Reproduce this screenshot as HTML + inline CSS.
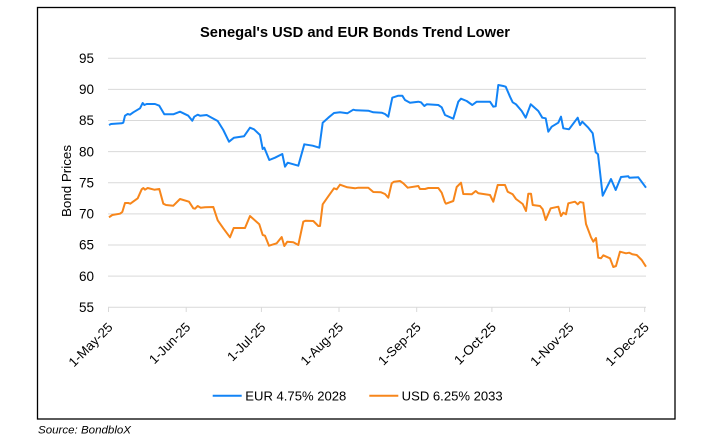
<!DOCTYPE html>
<html>
<head>
<meta charset="utf-8">
<style>
html,body{margin:0;padding:0;background:#fff;}
svg{display:block;}
text{font-family:"Liberation Sans",Arial,sans-serif;fill:#000;}
</style>
</head>
<body>
<svg width="714" height="442" viewBox="0 0 714 442" xmlns="http://www.w3.org/2000/svg">
<rect x="0" y="0" width="714" height="442" fill="#fff"/>
<rect x="37.5" y="7.5" width="637.5" height="411.5" fill="none" stroke="#000" stroke-width="1.3"/>

<text x="355" y="37" font-size="15" font-weight="bold" text-anchor="middle" textLength="310" lengthAdjust="spacingAndGlyphs">Senegal's USD and EUR Bonds Trend Lower</text>

<!-- gridlines -->
<g stroke="#d9d9d9" stroke-width="1">
<line x1="108" y1="58.3" x2="646" y2="58.3"/>
<line x1="108" y1="89.4" x2="646" y2="89.4"/>
<line x1="108" y1="120.5" x2="646" y2="120.5"/>
<line x1="108" y1="151.6" x2="646" y2="151.6"/>
<line x1="108" y1="182.8" x2="646" y2="182.8"/>
<line x1="108" y1="213.9" x2="646" y2="213.9"/>
<line x1="108" y1="245" x2="646" y2="245"/>
<line x1="108" y1="276.1" x2="646" y2="276.1"/>
<line x1="108" y1="307.2" x2="646" y2="307.2"/>
<line x1="108.5" y1="307" x2="108.5" y2="312"/>
<line x1="186.2" y1="307" x2="186.2" y2="312"/>
<line x1="261.4" y1="307" x2="261.4" y2="312"/>
<line x1="339" y1="307" x2="339" y2="312"/>
<line x1="416.7" y1="307" x2="416.7" y2="312"/>
<line x1="491.9" y1="307" x2="491.9" y2="312"/>
<line x1="569.5" y1="307" x2="569.5" y2="312"/>
<line x1="644.7" y1="307" x2="644.7" y2="312"/>
</g>

<!-- y labels -->
<g font-size="13.5" text-anchor="end">
<text x="94" y="63">95</text>
<text x="94" y="94.1">90</text>
<text x="94" y="125.2">85</text>
<text x="94" y="156.3">80</text>
<text x="94" y="187.5">75</text>
<text x="94" y="218.6">70</text>
<text x="94" y="249.7">65</text>
<text x="94" y="280.8">60</text>
<text x="94" y="311.9">55</text>
</g>

<text x="0" y="0" font-size="13" text-anchor="middle" transform="translate(71,181) rotate(-90)" textLength="72" lengthAdjust="spacingAndGlyphs">Bond Prices</text>

<!-- x labels -->
<g font-size="13" text-anchor="end">
<text transform="translate(113.5,328) rotate(-45)" textLength="56" lengthAdjust="spacingAndGlyphs">1-May-25</text>
<text transform="translate(191.2,328) rotate(-45)" textLength="52" lengthAdjust="spacingAndGlyphs">1-Jun-25</text>
<text transform="translate(266.4,328) rotate(-45)" textLength="48" lengthAdjust="spacingAndGlyphs">1-Jul-25</text>
<text transform="translate(344,328) rotate(-45)" textLength="54" lengthAdjust="spacingAndGlyphs">1-Aug-25</text>
<text transform="translate(421.7,328) rotate(-45)" textLength="54" lengthAdjust="spacingAndGlyphs">1-Sep-25</text>
<text transform="translate(496.9,328) rotate(-45)" textLength="53" lengthAdjust="spacingAndGlyphs">1-Oct-25</text>
<text transform="translate(574.5,328) rotate(-45)" textLength="55" lengthAdjust="spacingAndGlyphs">1-Nov-25</text>
<text transform="translate(649.7,328) rotate(-45)" textLength="55" lengthAdjust="spacingAndGlyphs">1-Dec-25</text>
</g>

<!-- series -->
<polyline fill="none" stroke="#1283F6" stroke-width="2" stroke-linejoin="round" points="109,125 111,124 121.7,123.3 123.3,122.7 125,115.7 127.7,114 130,114.7 133.3,112.3 140,108.3 142.7,103 144.3,105 146.7,104 155,104 159.3,105.7 164.3,114.3 173.3,114.3 180,111.7 188.3,115.7 192.3,120.7 194.3,116.7 197.7,114.7 200,115.7 206.7,115 211.7,117.7 217.7,121 223.3,130 229,141.7 234,137.7 244,136.3 250,127.7 254,129.3 260,135 262.7,149 264.3,147.7 269.3,160 275,157.7 282.3,154 285,166.7 287.7,162.7 298.3,165.7 304.3,144.3 312.7,145.7 319.3,147.7 322.7,122.7 328.3,117.7 334,113 340,112.3 347.3,113.3 353.3,109.7 356,110.3 368.3,110.7 373.3,112.3 381.7,112.7 385,114 388.3,116.7 392.3,97.7 398.3,95.7 402.3,95.7 405,100 410,102.7 418.3,101.7 421,102.3 424.3,106 426.7,104.3 438.3,105 441.7,107.3 445,115 453.3,118.7 458.3,101.7 461,98.7 466.7,101 472.3,105 476.7,101.7 490,101.7 493.3,106.7 495.7,106.3 498.3,85 503.3,86 505.7,86.7 510,96.7 512.7,102.3 516,104.3 521.7,111 525.7,117.7 530.7,104.3 538.3,111 542.3,117.7 545.7,118.3 548.3,131.7 551.7,126.7 558.3,122.7 561,116.7 563.3,128.3 569,129.3 577.7,117.7 580,125 582.3,121.7 588.3,127.7 592.7,133.3 595.7,152.3 598,154.3 602.7,195.7 606.7,187.7 611,179 615.7,190 621,177 628.3,176.3 629.3,177.7 638.3,177.3 642.3,182.7 646,187.7"/>

<polyline fill="none" stroke="#F7861B" stroke-width="2" stroke-linejoin="round" points="109,217.3 112.3,215 120,213.7 122.3,212 125,203 128.3,203 130.3,203.7 137.7,198.3 141.7,189.3 143.3,188 145,189.7 147.7,188 154.3,189.7 159.3,189 163.3,203.7 166,205 173.3,205.7 180,199 189,201.7 193.3,208.3 195,208.7 197.7,206 200.7,207.7 205,207.3 213.3,207 217.7,220.3 223.3,228.3 230,237.3 233.7,228 245,228 250,216 259.3,224.3 262.7,235 265,235.7 269,245.7 276.7,243.3 281.7,237 284.3,246 287.3,241.7 293.3,242.3 298.3,245 303.3,221.7 305.7,220.7 313.3,221 318.3,226 320,226 322.7,204.3 328.3,196.3 334,188.3 336.7,189.3 340,184.7 347.3,187.3 355,188.3 358.3,187.7 368.3,187.7 373.3,192 381,192.3 385,194 388.3,197.7 391.7,183.3 394,181.7 400,181 403.3,183.3 407.7,187.7 418.3,186 420,189 425,189 428.3,188 438.3,188 441.7,192.7 445,202.3 446,203.7 453.3,201 456.7,187 461,182.7 463.3,194 471.7,194.3 475.7,191 478.3,193.3 490,195 493.3,201.7 497.7,185 505,185 507.7,191.7 512.7,194.3 516,199 522.7,204 526,211 528.3,193.7 531,193.7 532.7,205 540,206 542.7,209.3 545.7,220 550.7,208.3 558.3,206.7 561,216 563.3,212.7 566,214.3 568.3,203.3 575,201.7 577.7,204.3 580,202 583.3,202.7 586,224 591,237.3 593.3,241.7 596,238 598.3,257.7 601,258.3 603.3,255.3 610,258.3 613.3,267 616,266 620,251.7 626,253.3 629.3,252.7 632.3,254.3 636.7,255 641.7,260 646,266.7"/>

<!-- legend -->
<line x1="212.7" y1="395.7" x2="241.7" y2="395.7" stroke="#1283F6" stroke-width="2"/>
<text x="245.3" y="400.7" font-size="13" textLength="101" lengthAdjust="spacingAndGlyphs">EUR 4.75% 2028</text>
<line x1="369.3" y1="395.7" x2="398.3" y2="395.7" stroke="#F7861B" stroke-width="2"/>
<text x="401.7" y="400.7" font-size="13" textLength="101" lengthAdjust="spacingAndGlyphs">USD 6.25% 2033</text>

<text x="38" y="433.5" font-size="11" font-style="italic" textLength="93" lengthAdjust="spacingAndGlyphs">Source: BondbloX</text>
</svg>
</body>
</html>
